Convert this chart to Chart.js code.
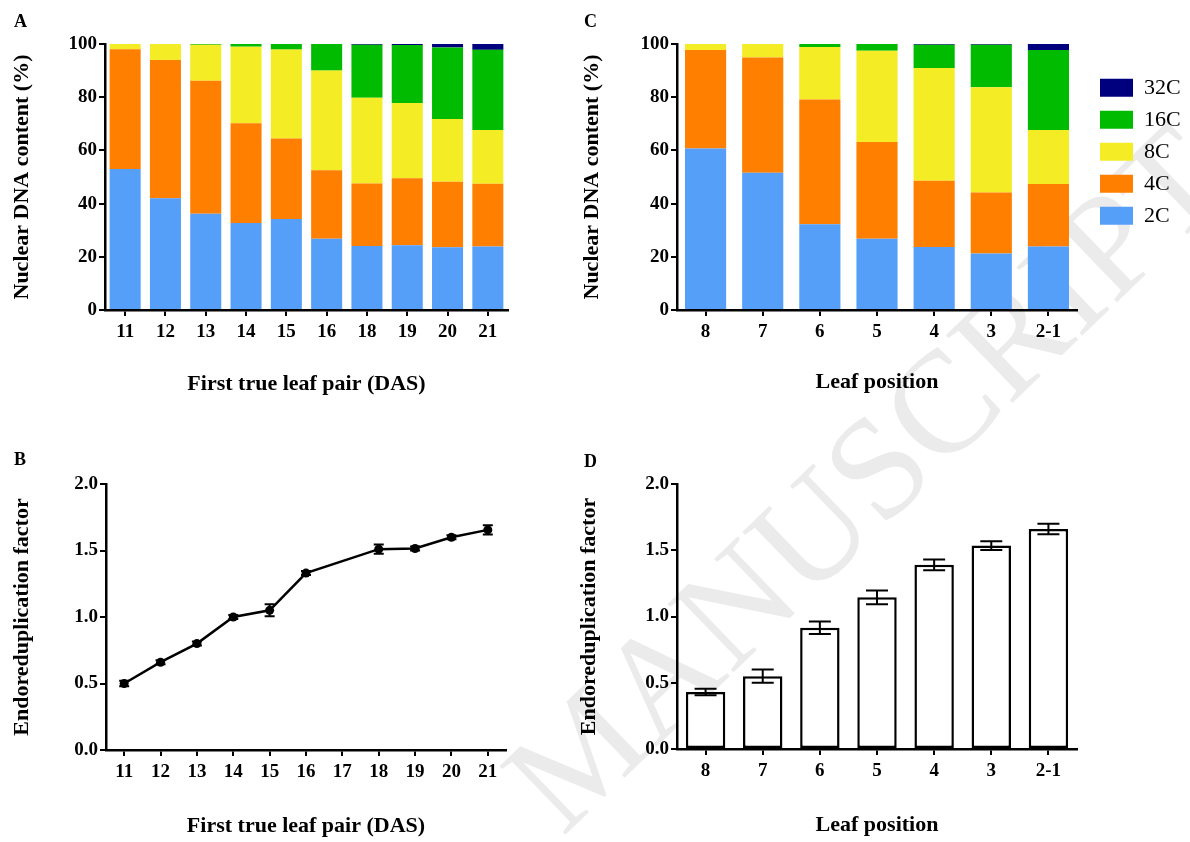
<!DOCTYPE html>
<html><head><meta charset="utf-8">
<script src="https://cdn.jsdelivr.net/npm/chart.js@4.4.1/dist/chart.umd.min.js"></script>
<style>
html,body{margin:0;padding:0;background:#fff;}
body{width:1190px;height:842px;position:relative;overflow:hidden;font-family:'Liberation Serif','Times New Roman',serif;}
canvas{position:absolute;z-index:1;}
.lbl{position:absolute;font-weight:bold;font-size:18px;line-height:18px;z-index:2;color:#000;}
#wm{position:absolute;left:865px;top:478px;transform:translate(-50%,-50%) rotate(-44deg);font-size:145px;color:#ebebeb;white-space:nowrap;z-index:0;line-height:1;font-family:'Liberation Serif',serif;}
</style></head><body>
<div id="wm">MANUSCRIPT</div>
<div class="lbl" style="left:14px;top:12px">A</div>
<div class="lbl" style="left:14px;top:450px">B</div>
<div class="lbl" style="left:584px;top:12px">C</div>
<div class="lbl" style="left:584px;top:452px">D</div>
<canvas id="cA" width="570" height="390" style="left:0px;top:30px"></canvas>
<canvas id="cB" width="570" height="372" style="left:0px;top:470px"></canvas>
<canvas id="cC" width="615" height="390" style="left:575px;top:30px"></canvas>
<canvas id="cD" width="615" height="372" style="left:575px;top:470px"></canvas>
<script>
// ---- data ----
const ploidyLabels = ['2C', '4C', '8C', '16C', '32C'];
const ploidyColors = ['#559ff9', '#ff7f00', '#f4ec24', '#00bb00', '#00007e'];

// Panel A: first true leaf pair over time (DAS)
const aCats = ['11', '12', '13', '14', '15', '16', '18', '19', '20', '21'];
const a2C  = [53.0, 42.0, 36.2, 32.7, 34.2, 26.8, 24.1, 24.3, 23.6, 23.9];
const a4C  = [45.0, 52.0, 50.0, 37.5, 30.3, 25.7, 23.5, 25.2, 24.6, 23.6];
const a8C  = [2.0, 6.0, 13.5, 28.8, 33.4, 37.5, 32.2, 28.3, 23.6, 20.2];
const a16C = [0, 0, 0.3, 1.0, 2.1, 10.0, 19.9, 21.8, 26.9, 30.1];
const a32C = [0, 0, 0, 0, 0, 0, 0.3, 0.4, 1.3, 2.2];

// Panel B: endoreduplication factor over time
const bTicks = [11, 12, 13, 14, 15, 16, 17, 18, 19, 20, 21];
const bDays  = [11, 12, 13, 14, 15, 16, 18, 19, 20, 21];
const bEF    = [0.50, 0.66, 0.80, 1.00, 1.05, 1.33, 1.51, 1.515, 1.60, 1.655];
const bErr   = [0.02, 0.015, 0.015, 0.015, 0.045, 0.015, 0.035, 0.015, 0.015, 0.035];

// Panel C: leaf position
const cCats = ['8', '7', '6', '5', '4', '3', '2-1'];
const c2C  = [60.7, 51.6, 32.2, 26.8, 23.7, 21.2, 23.9];
const c4C  = [37.0, 43.3, 46.9, 36.4, 24.9, 23.0, 23.5];
const c8C  = [2.3, 5.1, 19.8, 34.3, 42.4, 39.5, 20.3];
const c16C = [0, 0, 1.1, 2.5, 8.7, 16.0, 30.0];
const c32C = [0, 0, 0, 0, 0.3, 0.3, 2.3];

// Panel D: endoreduplication factor by leaf position
const dEF  = [0.43, 0.55, 0.915, 1.145, 1.39, 1.535, 1.66];
const dErr = [0.025, 0.05, 0.048, 0.052, 0.04, 0.033, 0.04];

// ---- styling helpers ----
const FONT = "'Liberation Serif', 'Times New Roman', serif";
Chart.defaults.font.family = FONT;
Chart.defaults.color = '#000';

const tickFont = { family: FONT, size: 19, weight: 'bold' };
const titleFont = { family: FONT, size: 22, weight: 'bold' };

function axisCommon() {
  return {
    border: { display: true, color: '#000', width: 2.5 },
    grid: { display: true, drawOnChartArea: false, drawTicks: true, tickLength: 6, color: '#000', lineWidth: 2, offset: false }
  };
}

function xAxis(title, height, padBottom, extra) {
  return Object.assign(axisCommon(), {
    ticks: { font: tickFont, padding: 5, maxRotation: 0, autoSkip: false },
    title: { display: true, text: title, font: titleFont, padding: { top: 0, bottom: padBottom } },
    afterFit: s => { s.height = height; }
  }, extra || {});
}

function yAxis(title, width, padTop, min, max, step, fmt) {
  return Object.assign(axisCommon(), {
    min: min, max: max,
    ticks: { font: tickFont, padding: 2, stepSize: step, callback: fmt },
    title: { display: true, text: title, font: titleFont, padding: { top: padTop, bottom: 0 } },
    afterFit: s => { s.width = width; }
  });
}

function stackSets(arrs, pct) {
  return arrs.map((arr, i) => ({
    label: ploidyLabels[i],
    data: arr,
    backgroundColor: ploidyColors[i],
    borderWidth: 0,
    barPercentage: pct,
    categoryPercentage: 1.0
  }));
}

function errorBars(vals, errs, capW, lw) {
  return {
    id: 'errbars',
    afterDatasetsDraw(chart) {
      const ctx = chart.ctx;
      const meta = chart.getDatasetMeta(0);
      const ys = chart.scales.y;
      ctx.save();
      ctx.strokeStyle = '#000';
      ctx.lineWidth = lw;
      meta.data.forEach((el, i) => {
        const x = el.x;
        const yt = ys.getPixelForValue(vals[i] + errs[i]);
        const yb = ys.getPixelForValue(vals[i] - errs[i]);
        ctx.beginPath();
        ctx.moveTo(x, yt); ctx.lineTo(x, yb);
        ctx.moveTo(x - capW / 2, yt); ctx.lineTo(x + capW / 2, yt);
        ctx.moveTo(x - capW / 2, yb); ctx.lineTo(x + capW / 2, yb);
        ctx.stroke();
      });
      ctx.restore();
    }
  };
}

const pctFmt = v => v;
const efFmt = v => Number(v).toFixed(1);

// ---- Panel A ----
new Chart(document.getElementById('cA'), {
  type: 'bar',
  data: { labels: aCats, datasets: stackSets([a2C, a4C, a8C, a16C, a32C], 0.77) },
  options: {
    responsive: false, animation: false,
    layout: { padding: { left: 0, right: 62, top: 14, bottom: 0 } },
    plugins: { legend: { display: false }, tooltip: { enabled: false } },
    scales: {
      x: xAxis('First true leaf pair (DAS)', 110, 22, { stacked: true }),
      y: Object.assign(yAxis('Nuclear DNA content (%)', 105, 9, 0, 100, 20, pctFmt), { stacked: true })
    }
  }
});

// ---- Panel B ----
new Chart(document.getElementById('cB'), {
  type: 'line',
  data: {
    datasets: [{
      label: 'EF',
      data: bDays.map((d, i) => ({ x: d, y: bEF[i] })),
      borderColor: '#000', backgroundColor: '#000', borderWidth: 2.5,
      pointRadius: 4.5, pointBackgroundColor: '#000', pointBorderWidth: 0,
      tension: 0, fill: false
    }]
  },
  options: {
    responsive: false, animation: false,
    layout: { padding: { left: 0, right: 64, top: 14, bottom: 0 } },
    plugins: { legend: { display: false }, tooltip: { enabled: false } },
    scales: {
      x: xAxis('First true leaf pair (DAS)', 92, 2, {
        type: 'linear', min: 10.5, max: 21.5,
        afterBuildTicks: s => { s.ticks = bTicks.map(v => ({ value: v })); }
      }),
      y: yAxis('Endoreduplication factor', 106, 9, 0, 2, 0.5, efFmt)
    }
  },
  plugins: [errorBars(bEF, bErr, 10, 2)]
});

// ---- Panel C ----
new Chart(document.getElementById('cC'), {
  type: 'bar',
  data: { labels: cCats, datasets: stackSets([c2C, c4C, c8C, c16C, c32C], 0.72) },
  options: {
    responsive: false, animation: false,
    layout: { padding: { left: 0, right: 10, top: 14, bottom: 0 } },
    plugins: {
      tooltip: { enabled: false },
      legend: {
        display: true, position: 'right', align: 'start', reverse: true, maxWidth: 90,
        title: { display: true, text: ' ', padding: 0, font: { family: FONT, size: 19 } },
        labels: { boxWidth: 33, boxHeight: 18, padding: 10, color: '#000',
                  font: { family: FONT, size: 22, weight: 'normal' } }
      }
    },
    scales: {
      x: xAxis('Leaf position', 110, 24, { stacked: true }),
      y: Object.assign(yAxis('Nuclear DNA content (%)', 102, 4, 0, 100, 20, pctFmt), { stacked: true }),
      gap: { position: 'right', display: true, grid: { display: false }, border: { display: false },
             ticks: { display: false }, afterFit: s => { s.width = 13; } }
    }
  }
});

// ---- Panel D ----
new Chart(document.getElementById('cD'), {
  type: 'bar',
  data: {
    labels: cCats,
    datasets: [{
      label: 'EF', data: dEF,
      backgroundColor: '#fff', borderColor: '#000', borderWidth: 2.5, borderSkipped: false,
      barPercentage: 0.69, categoryPercentage: 1.0
    }]
  },
  options: {
    responsive: false, animation: false,
    layout: { padding: { left: 0, right: 113, top: 14, bottom: 0 } },
    plugins: { legend: { display: false }, tooltip: { enabled: false } },
    scales: {
      x: xAxis('Leaf position', 93, 3),
      y: yAxis('Endoreduplication factor', 102, 1, 0, 2, 0.5, efFmt)
    }
  },
  plugins: [errorBars(dEF, dErr, 22, 2)]
});
</script>
</body></html>
